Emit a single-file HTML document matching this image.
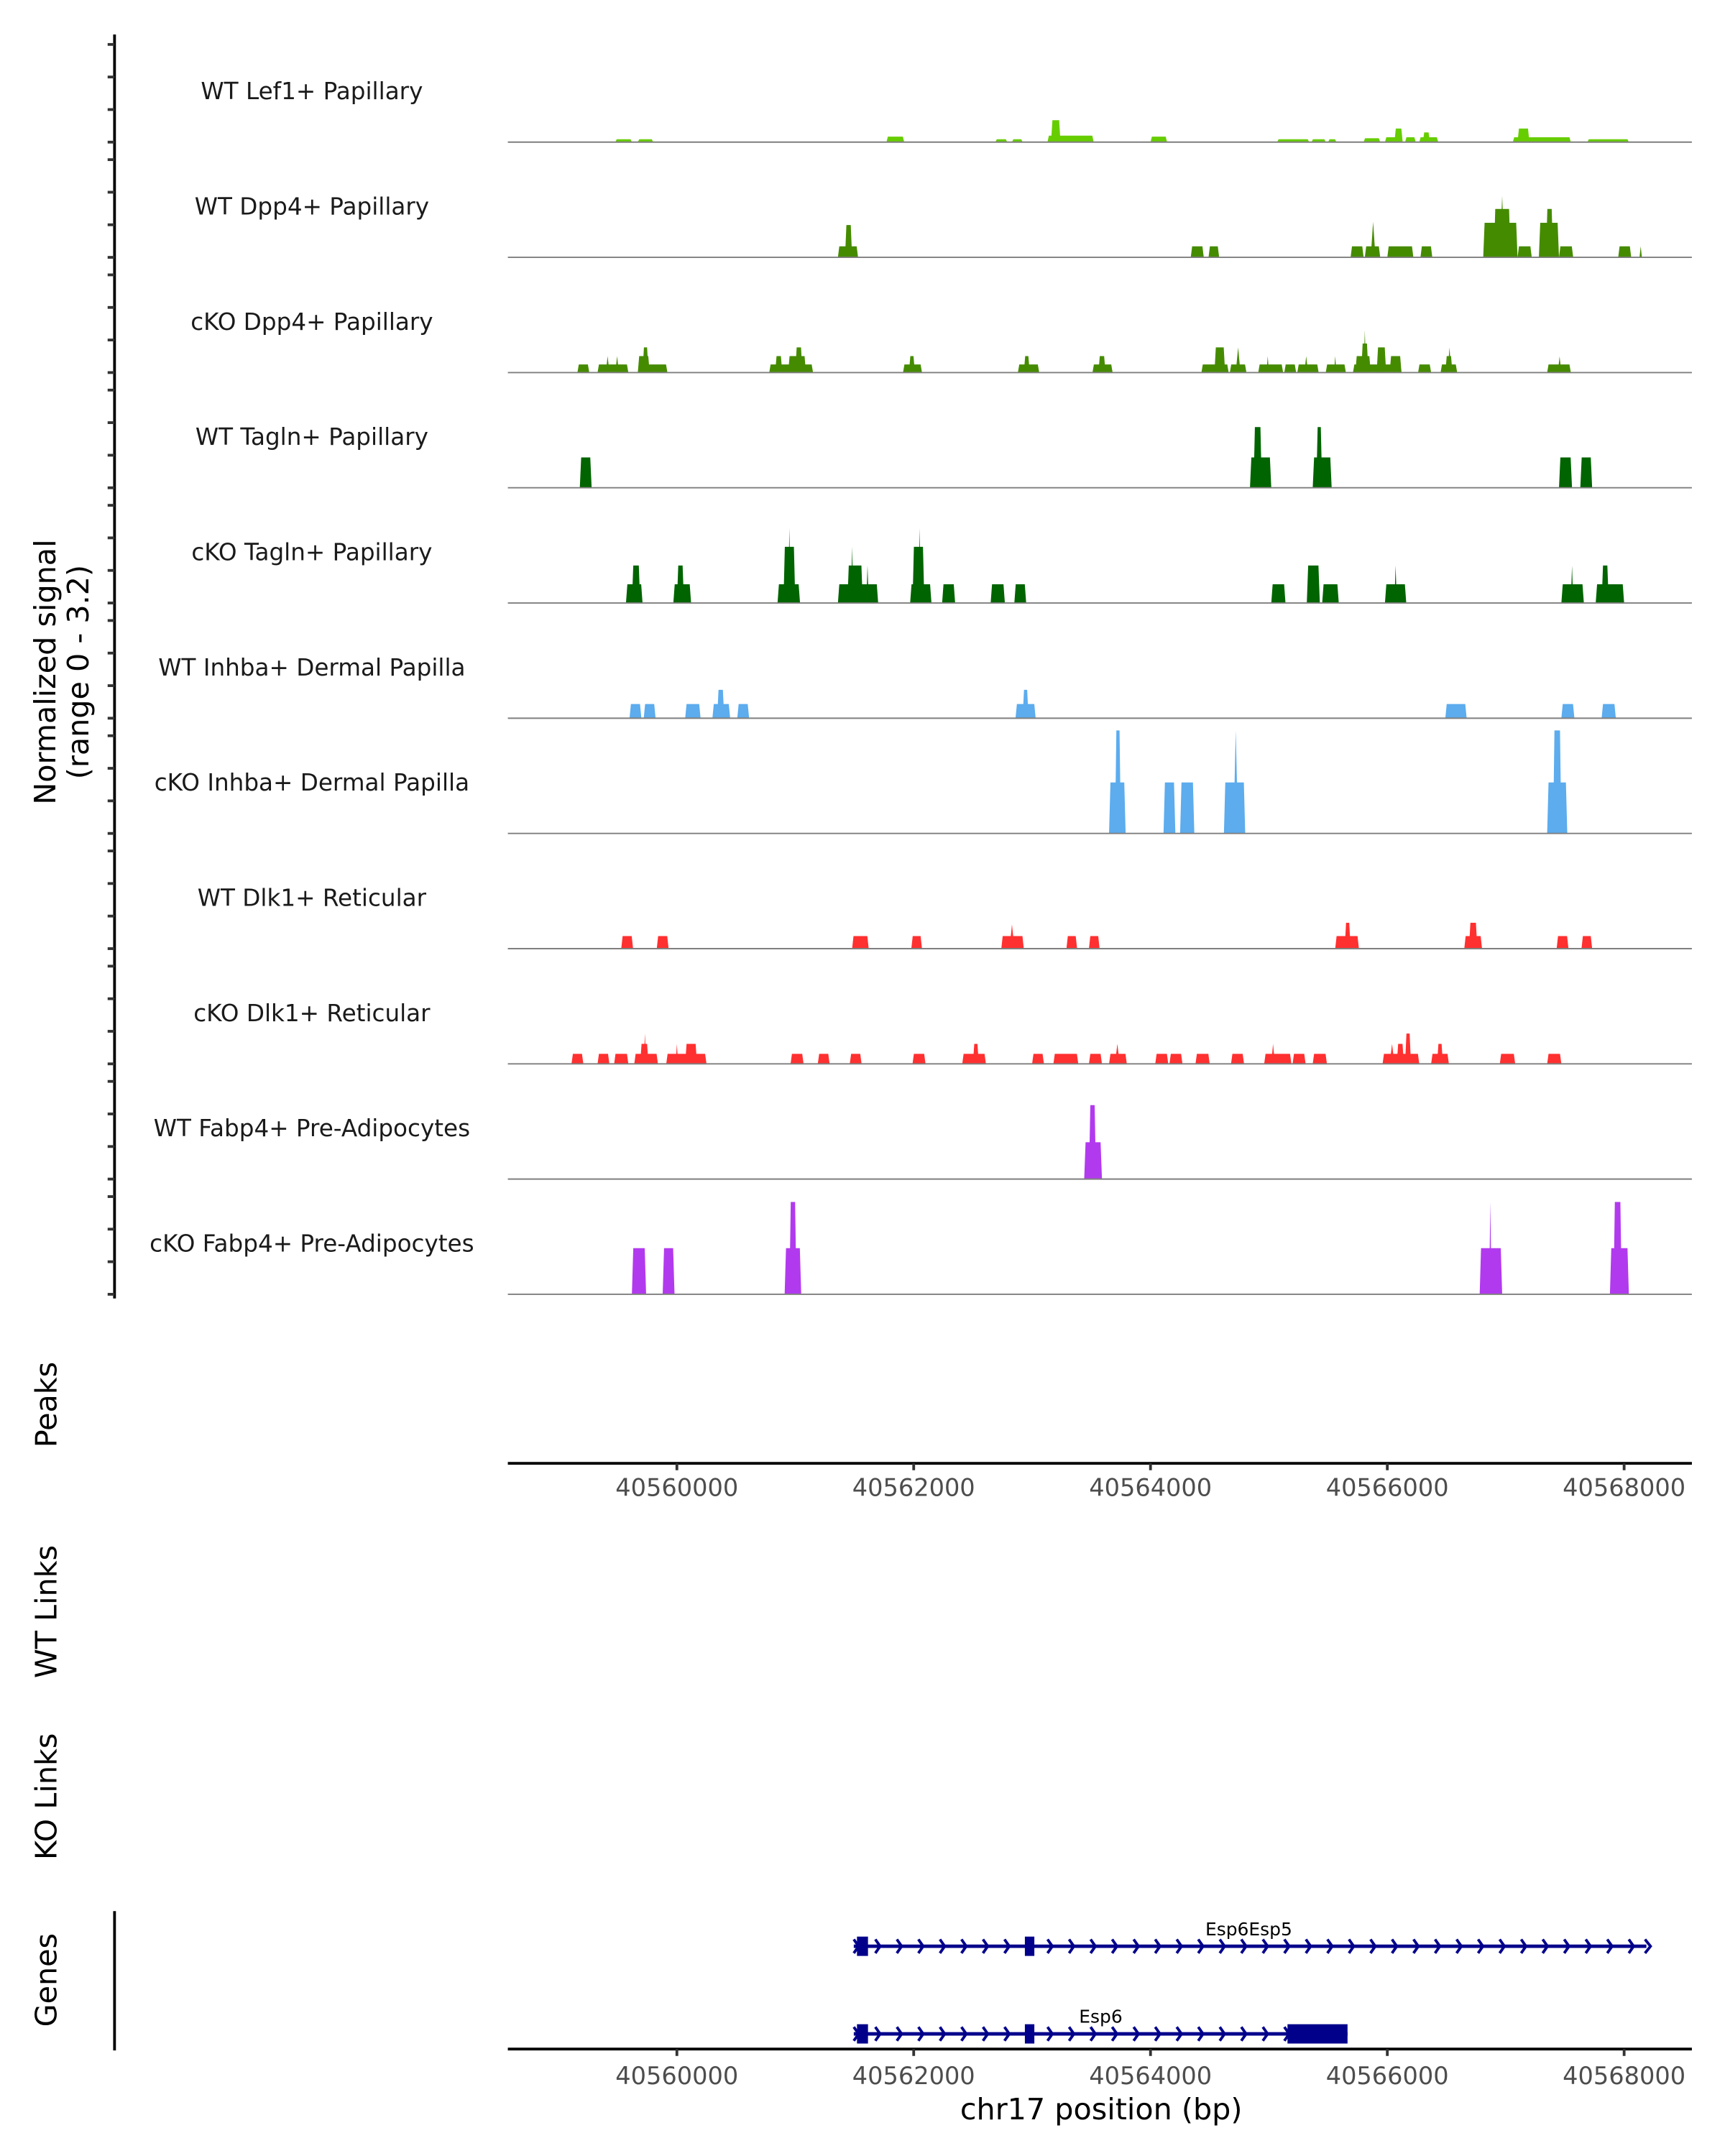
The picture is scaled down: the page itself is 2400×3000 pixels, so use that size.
<!DOCTYPE html>
<html><head><meta charset="utf-8"><style>
html,body{margin:0;padding:0;background:#fff;}
svg{display:block;font-family:"DejaVu Sans","Liberation Sans",sans-serif;}
</style></head>
<body>
<svg id="chart" xmlns="http://www.w3.org/2000/svg" width="2400" height="3000" viewBox="0 0 1250 1562.5">
<rect x="0" y="0" width="1250" height="1562.5" fill="#fff"/>
<g id="tracks"></g>
<line x1="83" y1="25" x2="83" y2="941" stroke="#000" stroke-width="2"/>
<g id="yticks"></g>
<text transform="translate(40,487) rotate(-90)" text-anchor="middle" font-size="21.5" fill="#000"><tspan x="0" dy="0">Normalized signal</tspan><tspan x="0" dy="24">(range 0 - 3.2)</tspan></text>
<text transform="translate(41,1018) rotate(-90)" text-anchor="middle" font-size="21.5">Peaks</text>
<text transform="translate(41,1168) rotate(-90)" text-anchor="middle" font-size="21.5">WT Links</text>
<text transform="translate(41,1302) rotate(-90)" text-anchor="middle" font-size="21.5">KO Links</text>
<text transform="translate(41,1435) rotate(-90)" text-anchor="middle" font-size="21.5">Genes</text>
<line x1="83" y1="1385" x2="83" y2="1486" stroke="#000" stroke-width="2"/>
<g id="axes"></g>
<g id="genes"></g>
<text x="798" y="1536" text-anchor="middle" font-size="21.5">chr17 position (bp)</text>
</svg>
<script>
const trackNames=["WT Lef1+ Papillary","WT Dpp4+ Papillary","cKO Dpp4+ Papillary","WT Tagln+ Papillary","cKO Tagln+ Papillary","WT Inhba+ Dermal Papilla","cKO Inhba+ Dermal Papilla","WT Dlk1+ Reticular","cKO Dlk1+ Reticular","WT Fabp4+ Pre-Adipocytes","cKO Fabp4+ Pre-Adipocytes"];
const trackColors=["#66cd00","#458b00","#458b00","#006400","#006400","#5cacee","#5cacee","#ff3030","#ff3030","#b23aee","#b23aee"];
// peak start (kb), end (kb), value (normalized)
const lef1Start=[40559.48,40559.67,40561.77,40562.69,40562.83,40563.13,40563.16,40564.00,40565.07,40565.36,40565.50,40565.80,40565.98,40566.06,40566.15,40566.27,40566.30,40567.06,40567.10,40567.69];
const lef1End=[40559.62,40559.80,40561.92,40562.79,40562.92,40563.52,40563.24,40564.14,40565.34,40565.48,40565.57,40565.94,40566.13,40566.13,40566.24,40566.43,40566.36,40567.55,40567.20,40568.04];
const lef1Val=[0.09,0.09,0.17,0.09,0.09,0.2,0.68,0.17,0.09,0.09,0.09,0.12,0.15,0.42,0.15,0.15,0.3,0.15,0.42,0.09];
const wdppStart=[40561.36,40561.42,40564.34,40564.49,40565.69,40565.81,40565.86,40566.00,40566.28,40566.81,40566.90,40566.95,40567.10,40567.28,40567.34,40567.45,40567.95,40568.13];
const wdppEnd=[40561.53,40561.48,40564.45,40564.58,40565.80,40565.94,40565.90,40566.22,40566.38,40567.10,40567.04,40566.99,40567.22,40567.45,40567.40,40567.57,40568.06,40568.15];
const wdppVal=[0.34,1.0,0.34,0.34,0.34,0.34,1.1,0.34,0.34,1.07,1.5,1.9,0.34,1.07,1.5,0.34,0.34,0.34];
const kdppStart=[40559.16,40559.33,40559.40,40559.48,40559.67,40559.67,40559.71,40560.78,40560.83,40560.94,40561.00,40561.91,40561.96,40562.88,40562.93,40563.51,40563.56,40564.43,40564.54,40564.67,40564.72,40564.91,40564.98,40565.13,40565.24,40565.30,40565.48,40565.55,40565.71,40565.73,40565.78,40565.80,40565.91,40566.02,40566.26,40566.45,40566.49,40566.51,40567.35,40567.44];
const kdppEnd=[40559.26,40559.59,40559.43,40559.51,40559.92,40559.77,40559.76,40561.15,40560.89,40561.09,40561.06,40562.07,40562.01,40563.06,40562.98,40563.68,40563.62,40564.66,40564.63,40564.81,40564.76,40565.12,40565.00,40565.23,40565.42,40565.33,40565.65,40565.57,40566.12,40565.86,40565.84,40565.82,40565.99,40566.12,40566.37,40566.59,40566.55,40566.54,40567.55,40567.47];
const kdppVal=[0.25,0.25,0.51,0.51,0.25,0.51,0.78,0.25,0.51,0.51,0.78,0.25,0.51,0.25,0.51,0.25,0.51,0.25,0.78,0.25,0.78,0.25,0.51,0.25,0.25,0.51,0.25,0.51,0.25,0.51,0.9,1.31,0.78,0.51,0.25,0.25,0.51,0.78,0.25,0.5];
const wtagStart=[40559.18,40564.84,40564.87,40565.37,40565.40,40567.45,40567.63];
const wtagEnd=[40559.28,40565.02,40564.94,40565.53,40565.45,40567.56,40567.73];
const wtagVal=[0.94,0.94,1.88,0.94,1.88,0.94,0.94];
const ktagStart=[40559.57,40559.62,40559.97,40560.00,40560.85,40560.90,40560.94,40561.36,40561.44,40561.47,40561.60,40561.97,40561.99,40562.04,40562.24,40562.65,40562.85,40565.02,40565.32,40565.45,40565.98,40566.06,40567.47,40567.55,40567.76,40567.81];
const ktagEnd=[40559.71,40559.69,40560.12,40560.06,40561.04,40561.00,40560.96,40561.70,40561.57,40561.49,40561.62,40562.15,40562.09,40562.06,40562.35,40562.77,40562.95,40565.14,40565.43,40565.59,40566.16,40566.08,40567.66,40567.57,40568.00,40567.87];
const ktagVal=[0.58,1.16,0.58,1.16,0.58,1.74,2.32,0.58,1.16,1.74,1.16,0.58,1.74,2.32,0.58,0.58,0.58,0.58,1.16,0.58,0.58,1.16,0.58,1.16,0.58,1.16];
const winhStart=[40559.60,40559.72,40560.07,40560.30,40560.34,40560.51,40562.86,40562.92,40566.49,40567.47,40567.81];
const winhEnd=[40559.70,40559.82,40560.20,40560.45,40560.40,40560.61,40563.03,40562.97,40566.67,40567.58,40567.93];
const winhVal=[0.44,0.44,0.44,0.44,0.88,0.44,0.44,0.88,0.44,0.44,0.44];
const kinhStart=[40563.65,40563.70,40564.11,40564.25,40564.62,40564.70,40567.35,40567.40];
const kinhEnd=[40563.79,40563.75,40564.21,40564.37,40564.80,40564.74,40567.52,40567.47];
const kinhVal=[1.58,3.19,1.58,1.58,1.58,3.19,1.58,3.19];
const wdlkStart=[40559.53,40559.83,40561.48,40561.98,40562.74,40562.81,40563.29,40563.48,40565.56,40565.64,40566.65,40566.69,40567.43,40567.64];
const wdlkEnd=[40559.63,40559.93,40561.62,40562.07,40562.93,40562.85,40563.38,40563.57,40565.76,40565.69,40566.80,40566.76,40567.53,40567.73];
const wdlkVal=[0.39,0.39,0.39,0.39,0.39,0.75,0.39,0.39,0.39,0.8,0.39,0.8,0.39,0.39];
const kdlkStart=[40559.11,40559.33,40559.47,40559.64,40559.69,40559.72,40559.91,40559.99,40560.07,40560.96,40561.19,40561.46,40561.99,40562.41,40562.50,40563.00,40563.18,40563.48,40563.65,40563.70,40564.04,40564.16,40564.38,40564.68,40564.96,40565.02,40565.20,40565.37,40565.96,40566.02,40566.08,40566.15,40566.37,40566.42,40566.95,40567.35];
const kdlkEnd=[40559.21,40559.43,40559.59,40559.84,40559.76,40559.74,40560.25,40560.01,40560.17,40561.07,40561.29,40561.56,40562.10,40562.61,40562.55,40563.10,40563.39,40563.59,40563.80,40563.74,40564.15,40564.27,40564.50,40564.79,40565.19,40565.05,40565.31,40565.49,40566.27,40566.06,40566.14,40566.20,40566.52,40566.47,40567.08,40567.47];
const kdlkVal=[0.31,0.31,0.31,0.31,0.62,0.94,0.31,0.62,0.62,0.31,0.31,0.31,0.31,0.31,0.62,0.31,0.31,0.31,0.31,0.62,0.31,0.31,0.31,0.31,0.31,0.62,0.31,0.31,0.31,0.62,0.62,0.94,0.31,0.62,0.31,0.31];
const wfabStart=[40563.44,40563.48];
const wfabEnd=[40563.59,40563.54];
const wfabVal=[1.14,2.29];
const kfabStart=[40559.62,40559.88,40560.91,40560.95,40566.78,40566.86,40567.88,40567.91];
const kfabEnd=[40559.74,40559.98,40561.05,40561.01,40566.97,40566.88,40568.04,40567.98];
const kfabVal=[1.43,1.43,1.43,2.86,1.43,2.86,1.43,2.86];
const trackStarts=[lef1Start,wdppStart,kdppStart,wtagStart,ktagStart,winhStart,kinhStart,wdlkStart,kdlkStart,wfabStart,kfabStart];
const trackEnds=[lef1End,wdppEnd,kdppEnd,wtagEnd,ktagEnd,winhEnd,kinhEnd,wdlkEnd,kdlkEnd,wfabEnd,kfabEnd];
const trackVals=[lef1Val,wdppVal,kdppVal,wtagVal,ktagVal,winhVal,kinhVal,wdlkVal,kdlkVal,wfabVal,kfabVal];
const xTicks=[40560,40562,40564,40566,40568];
const xTickLabels=["40560000","40562000","40564000","40566000","40568000"];
const geneNames=["Esp6Esp5","Esp6"];
const geneStart=[40561.494,40561.494];
const geneEnd=[40568.188,40565.664];
const exonStart=[[40561.521,40562.939],[40561.521,40562.939,40565.157]];
const exonEnd=[[40561.614,40563.019],[40561.614,40563.019,40565.664]];
const geneLabelPos=[40564.83,40563.58];

const NS="http://www.w3.org/2000/svg";
const X0=368,X1=1226;
function x(kb){return 490.5+(kb-40560)*85.8;}
function base(i){return 103+i*83.5;}
const PXU=23.4;
function y(i,v){return base(i)-v*PXU;}
function mk(tag,attrs,parent){const e=document.createElementNS(NS,tag);for(const k in attrs)e.setAttribute(k,attrs[k]);parent.appendChild(e);return e;}

const tracks=document.getElementById('tracks');
const yt=document.getElementById('yticks');
for(let i=0;i<trackNames.length;i++){
  const g=mk('g',{},tracks);
  
  
  const lab=mk('text',{x:226,y:base(i)-31,'text-anchor':'middle','font-size':17,fill:'#1a1a1a'},g);
  lab.textContent=trackNames[i];
  
  
  const s=trackStarts[i],e=trackEnds[i],v=trackVals[i];
  for(let j=0;j<s.length;j++){
    const a=x(s[j]),b=x(e[j]),w=b-a;const ins=w<4?w/2:1;
    const bl=base(i),top=y(i,v[j]);
    const p=mk('polygon',{points:`${a},${bl} ${a+ins},${top} ${b-ins},${top} ${b},${bl}`,fill:trackColors[i]},g);
    
    
  }
  const ln=mk('line',{x1:X0,x2:X1,y1:base(i),y2:base(i),stroke:'#7f7f7f','stroke-width':1},g);
  
  
  for(let k=0;k<4;k++){
    const t=mk('line',{x1:78,x2:83,y1:base(i)-k*23.6,y2:base(i)-k*23.6,stroke:'#333','stroke-width':2},yt);
    
    
  }
}
const axes=document.getElementById('axes');
[[1060.5,23.5],[1485,25.5]].forEach((ad,ai)=>{
  const ay=ad[0];
  const l=mk('line',{x1:X0,x2:X1,y1:ay,y2:ay,stroke:'#000','stroke-width':2},axes);
  
  
  for(let k=0;k<xTicks.length;k++){
    const t=mk('line',{x1:x(xTicks[k]),x2:x(xTicks[k]),y1:ay,y2:ay+5,stroke:'#333','stroke-width':2},axes);
    
    
    const tl=mk('text',{x:x(xTicks[k]),y:ay+ad[1],'text-anchor':'middle','font-size':17.5,fill:'#4d4d4d'},axes);
    tl.textContent=xTickLabels[k];
    
    
  }
});
const genes=document.getElementById('genes');
const geneY=[1410.5,1474];
for(let gi=0;gi<geneNames.length;gi++){
  const g=mk('g',{},genes);
  
  
  const gy=geneY[gi],a=x(geneStart[gi]),b=x(geneEnd[gi]);
  mk('line',{x1:a,x2:b,y1:gy,y2:gy,stroke:'#00008b','stroke-width':2.5},g);
  for(let cx=a;cx<=b+0.1;cx+=15.6){
    mk('polyline',{points:`${cx},${gy-5} ${cx+3.5},${gy} ${cx},${gy+5}`,fill:'none',stroke:'#00008b','stroke-width':2},g);
  }
  if(gi===0) mk('polyline',{points:`${b-1},${gy-5} ${b+3},${gy} ${b-1},${gy+5}`,fill:'none',stroke:'#00008b','stroke-width':2},g);
  for(let k=0;k<exonStart[gi].length;k++){
    const ea=x(exonStart[gi][k]),eb=x(exonEnd[gi][k]);
    const hh=7;
    const r=mk('rect',{x:ea,y:gy-hh,width:Math.max(eb-ea,4),height:hh*2,fill:'#00008b'},g);
    
    
  }
  const t=mk('text',{x:x(geneLabelPos[gi]),y:gy-8,'text-anchor':'middle','font-size':13,fill:'#000'},g);
  t.textContent=geneNames[gi];
  
  
}
</script>
</body></html>
